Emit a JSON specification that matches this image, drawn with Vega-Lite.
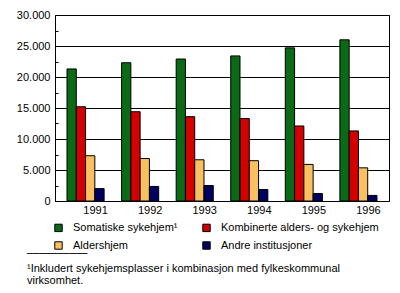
{
  "$schema": "https://vega.github.io/schema/vega-lite/v6.json",
  "width": 334,
  "height": 186,
  "autosize": {"type": "none"},
  "padding": {"left": 55, "top": 15, "right": 11, "bottom": 92},
  "background": "white",
  "config": {
    "view": {"stroke": "black", "strokeWidth": 1},
    "font": "Liberation Sans"
  },
  "title": {
    "text": "──────────",
    "subtitle": ["¹Inkludert sykehjemsplasser i kombinasjon med fylkeskommunal", "\u2002virksomhet."],
    "orient": "bottom",
    "anchor": "start",
    "frame": "group",
    "dx": -28,
    "offset": -3,
    "font": "DejaVu Sans Mono",
    "fontSize": 10,
    "fontWeight": "normal",
    "color": "black",
    "subtitleFont": "Liberation Sans",
    "subtitleFontSize": 11,
    "subtitleColor": "black",
    "subtitlePadding": 4,
    "subtitleLineHeight": 12
  },
  "data": {
    "values": [
      {"year": "1991", "type": "Somatiske sykehjem¹", "value": 21300},
      {"year": "1991", "type": "Kombinerte alders- og sykehjem", "value": 15200},
      {"year": "1991", "type": "Aldershjem", "value": 7300},
      {"year": "1991", "type": "Andre institusjoner", "value": 2000},
      {"year": "1992", "type": "Somatiske sykehjem¹", "value": 22300},
      {"year": "1992", "type": "Kombinerte alders- og sykehjem", "value": 14400},
      {"year": "1992", "type": "Aldershjem", "value": 6850},
      {"year": "1992", "type": "Andre institusjoner", "value": 2350},
      {"year": "1993", "type": "Somatiske sykehjem¹", "value": 22900},
      {"year": "1993", "type": "Kombinerte alders- og sykehjem", "value": 13600},
      {"year": "1993", "type": "Aldershjem", "value": 6650},
      {"year": "1993", "type": "Andre institusjoner", "value": 2500},
      {"year": "1994", "type": "Somatiske sykehjem¹", "value": 23400},
      {"year": "1994", "type": "Kombinerte alders- og sykehjem", "value": 13300},
      {"year": "1994", "type": "Aldershjem", "value": 6500},
      {"year": "1994", "type": "Andre institusjoner", "value": 1850},
      {"year": "1995", "type": "Somatiske sykehjem¹", "value": 24700},
      {"year": "1995", "type": "Kombinerte alders- og sykehjem", "value": 12100},
      {"year": "1995", "type": "Aldershjem", "value": 5900},
      {"year": "1995", "type": "Andre institusjoner", "value": 1200},
      {"year": "1996", "type": "Somatiske sykehjem¹", "value": 26000},
      {"year": "1996", "type": "Kombinerte alders- og sykehjem", "value": 11300},
      {"year": "1996", "type": "Aldershjem", "value": 5350},
      {"year": "1996", "type": "Andre institusjoner", "value": 900}
    ]
  },
  "mark": {"type": "bar", "stroke": "black", "strokeWidth": 1},
  "encoding": {
    "x": {
      "field": "year",
      "type": "nominal",
      "scale": {"paddingInner": 0.32, "paddingOuter": 0.22},
      "axis": {
        "title": null,
        "labelAngle": 0,
        "ticks": false,
        "domainColor": "black",
        "labelColor": "black",
        "labelFontSize": 11,
        "labelOffset": 10,
        "labelPadding": 3
      }
    },
    "xOffset": {
      "field": "type",
      "type": "nominal",
      "sort": ["Somatiske sykehjem¹", "Kombinerte alders- og sykehjem", "Aldershjem", "Andre institusjoner"],
      "scale": {"paddingInner": 0, "paddingOuter": 0}
    },
    "y": {
      "field": "value",
      "type": "quantitative",
      "scale": {"domain": [0, 30000], "nice": false},
      "axis": {
        "title": null,
        "values": [0, 2500, 5000, 7500, 10000, 12500, 15000, 17500, 20000, 22500, 25000, 27500, 30000],
        "labelExpr": "datum.value % 5000 == 0 ? replace(format(datum.value, ','), ',', '.') : ''",
        "gridColor": "black",
        "gridOpacity": {"condition": {"test": "datum.value % 5000 != 0", "value": 0}, "value": 1},
        "tickColor": "black",
        "tickSize": {"condition": {"test": "datum.value % 5000 != 0", "value": -3}, "value": 0},
        "domainColor": "black",
        "labelColor": "black",
        "labelFontSize": 11,
        "labelPadding": 5
      }
    },
    "fill": {
      "field": "type",
      "type": "nominal",
      "sort": ["Somatiske sykehjem¹", "Kombinerte alders- og sykehjem", "Aldershjem", "Andre institusjoner"],
      "scale": {
        "domain": ["Somatiske sykehjem¹", "Kombinerte alders- og sykehjem", "Aldershjem", "Andre institusjoner"],
        "range": ["#0b6a16", "#d40000", "#f8c060", "#00005e"]
      },
      "legend": {
        "title": null,
        "orient": "none",
        "legendX": -2,
        "legendY": 207,
        "columns": 2,
        "direction": "horizontal",
        "columnPadding": 22,
        "rowPadding": 5,
        "symbolType": "square",
        "symbolSize": 55,
        "symbolStrokeColor": "black",
        "symbolStrokeWidth": 1,
        "labelFontSize": 11,
        "labelColor": "black",
        "labelOffset": 9,
        "labelLimit": 250
      }
    }
  }
}
